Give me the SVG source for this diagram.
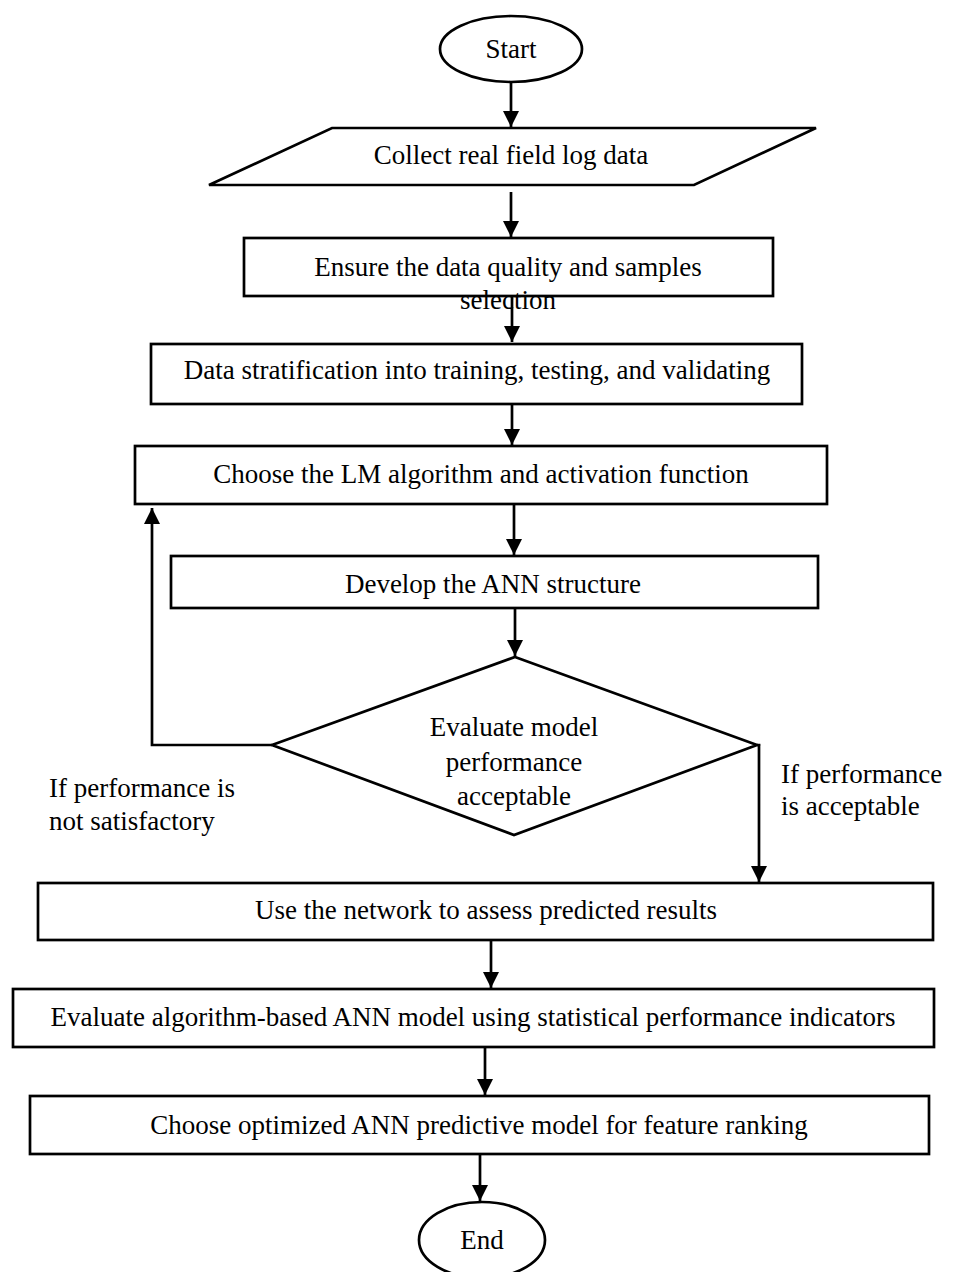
<svg xmlns="http://www.w3.org/2000/svg" width="953" height="1272" viewBox="0 0 953 1272">
<style>
.s{fill:#fff;stroke:#000;stroke-width:2.7}
.c{fill:none;stroke:#000;stroke-width:2.7}
text{font-family:"Liberation Serif","Times New Roman",serif;font-size:27px;fill:#000}
.m{text-anchor:middle}
</style>
<defs>
<marker id="ah" viewBox="0 0 16 16" refX="16" refY="8" markerWidth="16" markerHeight="16" markerUnits="userSpaceOnUse" orient="auto">
<path d="M0,0 L16,8 L0,16 Z" fill="#000"/>
</marker>
</defs>
<rect width="953" height="1272" fill="#fff"/>
<g id="connectors">
<line class="c" x1="511" y1="82" x2="511" y2="127" marker-end="url(#ah)"/>
<line class="c" x1="511" y1="192" x2="511" y2="237" marker-end="url(#ah)"/>
<line class="c" x1="512" y1="296" x2="512" y2="342" marker-end="url(#ah)"/>
<line class="c" x1="512" y1="404" x2="512" y2="445" marker-end="url(#ah)"/>
<line class="c" x1="514" y1="504" x2="514" y2="555" marker-end="url(#ah)"/>
<line class="c" x1="515" y1="608" x2="515" y2="656" marker-end="url(#ah)"/>
<polyline class="c" points="272,745 152,745 152,508" marker-end="url(#ah)"/>
<polyline class="c" points="757,745 759,745 759,882" marker-end="url(#ah)"/>
<line class="c" x1="491" y1="940" x2="491" y2="988" marker-end="url(#ah)"/>
<line class="c" x1="485" y1="1047" x2="485" y2="1095" marker-end="url(#ah)"/>
<line class="c" x1="480" y1="1154" x2="480" y2="1201" marker-end="url(#ah)"/>
</g>
<g id="start">
<ellipse class="s" cx="511" cy="49" rx="71" ry="33"/>
<text class="m" x="511" y="58">Start</text>
</g>
<g id="collect">
<polygon class="s" points="332,128 816,128 694,185 209,185"/>
<text class="m" x="511" y="164">Collect real field log data</text>
</g>
<g id="ensure">
<rect class="s" x="244" y="238" width="529" height="58"/>
<text class="m" x="508" y="276">Ensure the data quality and samples</text>
<text class="m" x="508" y="309">selection</text>
</g>
<g id="stratify">
<rect class="s" x="151" y="344" width="651" height="60"/>
<text class="m" x="477" y="379">Data stratification into training, testing, and validating</text>
</g>
<g id="choose-lm">
<rect class="s" x="135" y="446" width="692" height="58"/>
<text class="m" x="481" y="483">Choose the LM algorithm and activation function</text>
</g>
<g id="develop">
<rect class="s" x="171" y="556" width="647" height="52"/>
<text class="m" x="493" y="593">Develop the ANN structure</text>
</g>
<g id="evaluate">
<polygon class="s" points="515,657 757,745 514,835 272,745"/>
<text class="m" x="514" y="736">Evaluate model</text>
<text class="m" x="514" y="771">performance</text>
<text class="m" x="514" y="805">acceptable</text>
</g>
<g id="label-no">
<text x="49" y="797">If performance is</text>
<text x="49" y="830">not satisfactory</text>
</g>
<g id="label-yes">
<text x="781" y="783">If performance</text>
<text x="781" y="815">is acceptable</text>
</g>
<g id="use-network">
<rect class="s" x="38" y="883" width="895" height="57"/>
<text class="m" x="486" y="919">Use the network to assess predicted results</text>
</g>
<g id="evaluate-ann">
<rect class="s" x="13" y="989" width="921" height="58"/>
<text class="m" x="473" y="1026">Evaluate algorithm-based ANN model using statistical performance indicators</text>
</g>
<g id="choose-opt">
<rect class="s" x="30" y="1096" width="899" height="58"/>
<text class="m" x="479" y="1134">Choose optimized ANN predictive model for feature ranking</text>
</g>
<g id="end">
<ellipse class="s" cx="482" cy="1240" rx="63" ry="38"/>
<text class="m" x="482" y="1249">End</text>
</g>
</svg>
